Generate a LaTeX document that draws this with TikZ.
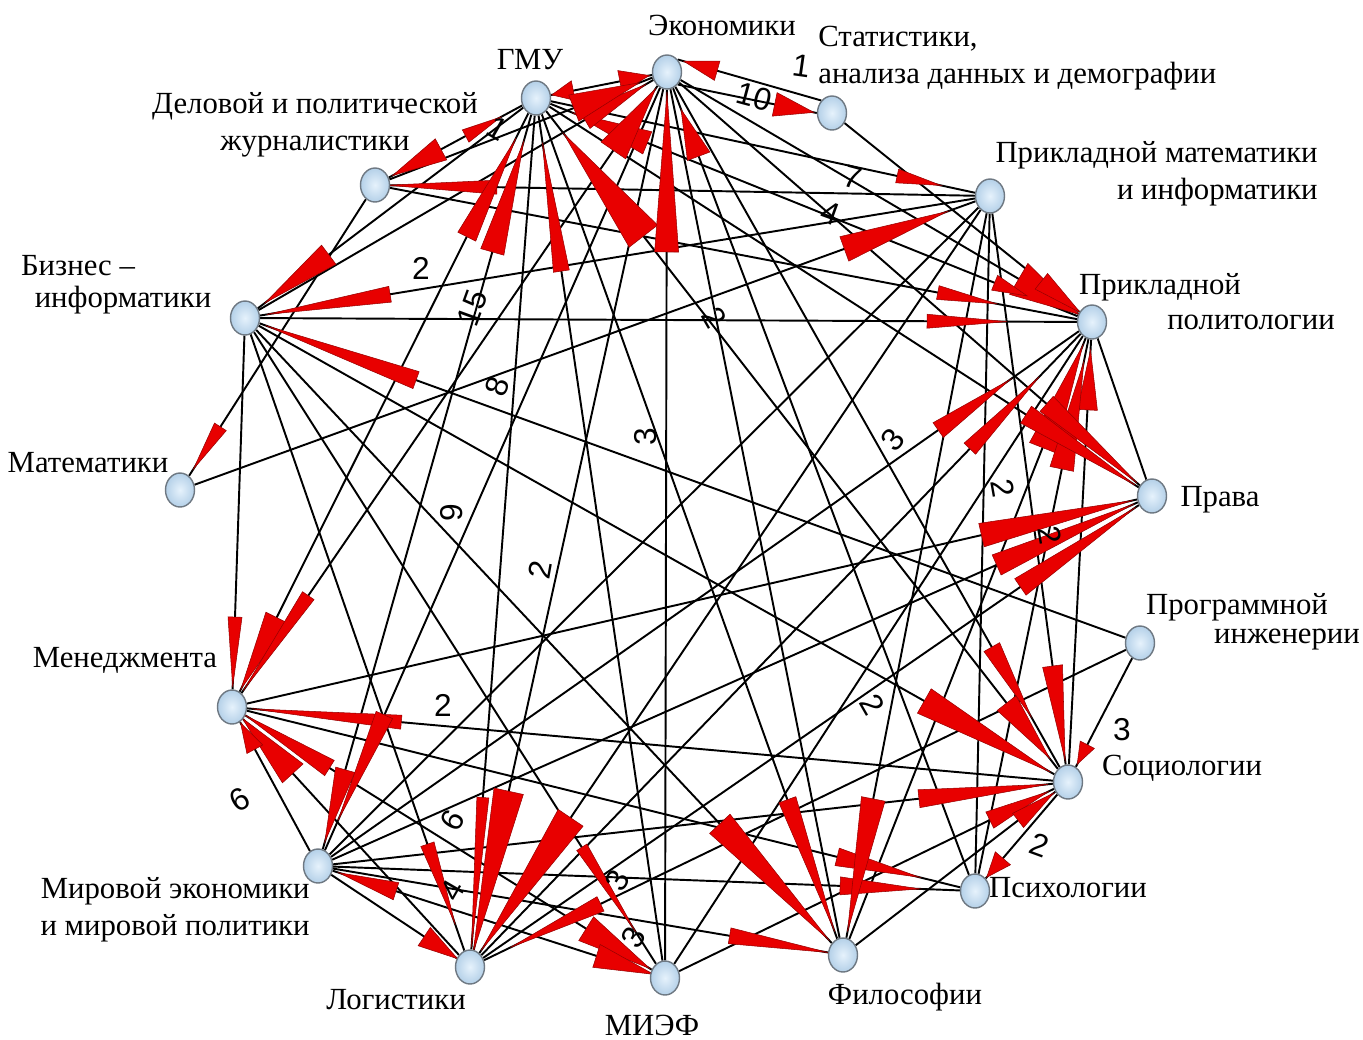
\documentclass[tikz,border=0pt]{standalone}
\usepackage{fontspec}
\setmainfont{Liberation Serif}
\newfontfamily\numfont{Liberation Sans}
\usetikzlibrary{calc,shapes.geometric}
\pgfdeclarelayer{edgelayer}
\pgfdeclarelayer{wedgelayer}
\pgfsetlayers{edgelayer,wedgelayer,main}
\definecolor{nodeblue}{RGB}{196,220,240}
\definecolor{nodeedge}{RGB}{110,120,130}
\definecolor{wedgered}{RGB}{232,0,0}
\definecolor{wedgedark}{RGB}{150,0,0}
\tikzset{
  vert/.style={ellipse, minimum width=0.58cm, minimum height=0.68cm, inner sep=0pt,
    draw=nodeedge, line width=0.8pt, inner color={rgb,255:red,230;green,242;blue,252},
    outer color={rgb,255:red,180;green,208;blue,232}},
  lab/.style={font=\fontsize{17.5}{21}\selectfont, inner sep=0pt},
  num/.style={font=\numfont\fontsize{18}{20}\selectfont, inner sep=0pt},
  edge/.style={draw=black, line width=1.1pt},
  redwedge/.style={fill=wedgered, draw=wedgedark, line width=0.3pt, line join=miter},
}
\newcommand\lnk[2]{\draw[edge] (#1) -- (#2);}
\newcommand\redarr[5]{%
  \pgfmathsetmacro\wga{#3*0.5691}%
  \pgfmathsetmacro\wgb{(#3+#4)*0.5691}%
  \pgfmathsetmacro\wgc{#5*0.5691}%
  \path ($(#2)!\wga pt!(#1)$) coordinate (wtip) ($(#2)!\wgb pt!(#1)$) coordinate (wbase);
  \fill[redwedge] (wtip) -- ($(wbase)!\wgc pt!90:(wtip)$) -- ($(wbase)!\wgc pt!-90:(wtip)$) -- cycle;}
\begin{document}
\begin{tikzpicture}[x=0.02cm,y=-0.02cm]
\useasboundingbox (0,0) rectangle (1363,1039);
% vertices
\node[vert] (E)  at (667,72) {};
\node[vert] (ST) at (832,113) {};
\node[vert] (G)  at (536,98) {};
\node[vert] (DJ) at (375,185) {};
\node[vert] (PM) at (990,196) {};
\node[vert] (BI) at (245,318) {};
\node[vert] (PP) at (1092,322) {};
\node[vert] (MA) at (180,490) {};
\node[vert] (PR) at (1152,496) {};
\node[vert] (PI) at (1140,643) {};
\node[vert] (ME) at (232,707) {};
\node[vert] (SO) at (1068,782) {};
\node[vert] (MW) at (318,866) {};
\node[vert] (PS) at (975,891) {};
\node[vert] (LO) at (470,967) {};
\node[vert] (MF) at (665,978) {};
\node[vert] (FI) at (843,955) {};
% names
\node[lab] (tE) at (722,25) {Экономики};
\node[lab, anchor=west, align=left] (tST) at (818,58) {Статистики,\\анализа данных и демографии};
\node[lab] (tG) at (530,60) {ГМУ};
\node[lab, align=center] (tDJ) at (315,125) {Деловой и политической\\журналистики};
\node[lab, anchor=east, align=right] (tPM) at (1318,174) {Прикладной математики\\и информатики};
\node[lab] (tBI1) at (78,266) {Бизнес –};
\node[lab] (tBI2) at (123,300) {информатики};
\node[lab] (tPP1) at (1160,287) {Прикладной};
\node[lab] (tPP2) at (1251,322) {политологии};
\node[lab] (tMA) at (88,463) {Математики};
\node[lab] (tPR) at (1220,500) {Права};
\node[lab] (tPI1) at (1237,607) {Программной};
\node[lab] (tPI2) at (1287,640) {инженерии};
\node[lab] (tME) at (125,660) {Менеджмента};
\node[lab] (tSO) at (1182,768) {Социологии};
\node[lab] (tPS) at (1068,888) {Психологии};
\node[lab, anchor=east, align=right] (tMW) at (310,910) {Мировой экономики\\и мировой политики};
\node[lab] (tLO) at (396,1000) {Логистики};
\node[lab] (tMF) at (652,1025) {МИЭФ};
\node[lab] (tFI) at (905,997) {Философии};
% connectors
\begin{pgfonlayer}{edgelayer}
\draw[edge] (ST.north west) -- (E.north east);
\draw[edge] (E.south east) -- (ST.west);
\lnk{E}{G}\lnk{DJ}{G}\lnk{G}{BI}\lnk{G}{PM}\lnk{G}{PP}\lnk{G}{PR}\lnk{G}{SO}
\lnk{G}{FI}\lnk{G}{MF}\lnk{G}{LO}\lnk{G}{MW}\lnk{G}{ME}
\lnk{E}{PP}\lnk{E}{PR}\lnk{E}{SO}\lnk{E}{PS}\lnk{E}{FI}\lnk{E}{MF}\lnk{E}{LO}
\lnk{E}{MW}\lnk{E}{ME}\lnk{E}{BI}\lnk{E}{DJ}
\lnk{ST}{PP}\lnk{DJ}{MA}\lnk{DJ}{PP}\lnk{DJ}{PM}\lnk{PM}{BI}\lnk{MA}{PM}
\lnk{PM}{SO}\lnk{PM}{PS}\lnk{PM}{FI}\lnk{PM}{MW}\lnk{PM}{LO}
\lnk{BI}{PP}\lnk{BI}{PI}\lnk{BI}{ME}\lnk{BI}{SO}\lnk{BI}{LO}\lnk{BI}{MF}\lnk{BI}{FI}
\lnk{MW}{PP}\lnk{MF}{PP}\lnk{LO}{PP}\lnk{SO}{PP}\lnk{FI}{PP}\lnk{PS}{PP}\lnk{PR}{PP}
\lnk{ME}{PR}\lnk{MW}{PR}\lnk{LO}{PR}\lnk{PI}{SO}\lnk{PI}{LO}
\lnk{SO}{ME}\lnk{SO}{MW}\lnk{SO}{MF}\lnk{SO}{FI}\lnk{SO}{PS}
\lnk{MW}{ME}\lnk{LO}{ME}\lnk{MF}{ME}\lnk{MW}{FI}\lnk{ME}{PS}\lnk{MW}{PS}
\lnk{MW}{MF}\lnk{MW}{LO}
\end{pgfonlayer}
\begin{pgfonlayer}{wedgelayer}
\redarr{ST.north west}{E.north east}{6}{35}{10}
\redarr{E.south east}{ST.west}{3}{40}{12}
\redarr{G}{E}{18}{30}{11}
\redarr{E}{G}{16}{22}{10}
\redarr{DJ}{G}{40}{40}{7}
\redarr{G}{DJ}{20}{55}{12}
\redarr{G}{BI}{25}{80}{12}
\redarr{PM}{BI}{22}{125}{8}
\redarr{PI}{BI}{22}{160}{9}
\redarr{BI}{ME}{20}{70}{7}
\redarr{DJ}{MA}{25}{50}{7}
\redarr{MA}{PM}{45}{110}{13}
\redarr{G}{PM}{50}{45}{7}
\redarr{PM}{DJ}{12}{110}{7}
\redarr{DJ}{PP}{97}{60}{7}
\redarr{BI}{PP}{85}{80}{7}
\redarr{E}{PP}{15}{70}{18}
\redarr{G}{PP}{70}{35}{8}
\redarr{ST}{PP}{15}{50}{10}
\redarr{MW}{PP}{100}{88}{9}
\redarr{LO}{PP}{76}{100}{8}
\redarr{FI}{PP}{25}{110}{14}
\redarr{SO}{PP}{28}{60}{10}
\redarr{PS}{PP}{40}{110}{12}
\redarr{G}{PR}{20}{130}{10}
\redarr{E}{PR}{20}{120}{10}
\redarr{ME}{PR}{20}{155}{12}
\redarr{MW}{PR}{20}{150}{11}
\redarr{LO}{PR}{20}{140}{10}
\redarr{BI}{SO}{20}{145}{14}
\redarr{E}{SO}{75}{80}{9}
\redarr{G}{SO}{30}{70}{12}
\redarr{PM}{SO}{22}{95}{10}
\redarr{PI}{SO}{20}{22}{8}
\redarr{MW}{SO}{20}{130}{9}
\redarr{MF}{SO}{22}{65}{9}
\redarr{FI}{SO}{18}{45}{9}
\redarr{SO}{PS}{18}{25}{10}
\redarr{SO}{ME}{20}{150}{7}
\redarr{ME}{PS}{57}{85}{9}
\redarr{MW}{PS}{55}{80}{9}
\redarr{BI}{FI}{20}{160}{14}
\redarr{G}{FI}{25}{140}{9}
\redarr{PM}{FI}{24}{135}{12}
\redarr{MW}{FI}{15}{100}{8}
\redarr{ME}{MF}{18}{75}{14}
\redarr{BI}{MF}{55}{100}{6}
\redarr{MW}{MF}{12}{60}{12}
\redarr{E}{LO}{15}{165}{15}
\redarr{PM}{LO}{20}{160}{15}
\redarr{G}{LO}{20}{150}{6}
\redarr{BI}{LO}{45}{85}{7}
\redarr{MW}{LO}{15}{40}{11}
\redarr{PI}{LO}{45}{100}{8}
\redarr{G}{ME}{20}{80}{12}
\redarr{E}{ME}{20}{115}{7}
\redarr{LO}{ME}{15}{75}{14}
\redarr{MF}{ME}{15}{100}{9}
\redarr{MW}{ME}{18}{30}{9}
\redarr{G}{MW}{25}{75}{10}
\redarr{E}{MW}{50}{115}{9}
\redarr{MF}{MW}{22}{60}{9}
\redarr{MW}{G}{45}{115}{12}
\redarr{ME}{G}{45}{110}{10}
\redarr{MF}{G}{45}{130}{8}
\redarr{SO}{G}{45}{130}{18}
\redarr{PP}{G}{40}{80}{12}
\redarr{MF}{E}{20}{160}{12}
\redarr{PS}{E}{40}{50}{12}
\redarr{ME}{E}{20}{75}{15}
\redarr{BI}{E}{25}{70}{10}
\redarr{DJ}{E}{30}{70}{14}
\end{pgfonlayer}
% edge weights
\node[num, rotate=-8] (w1) at (802,66) {1};
\node[num, rotate=-15] (w2) at (754,97) {10};
\node[num, rotate=-30] (w3) at (498,128) {1};
\node[num, rotate=-15] (w4) at (853,177) {7};
\node[num, rotate=-20] (w5) at (830,213) {4};
\node[num] (w6) at (421,268) {2};
\node[num, rotate=70] (w7) at (472,308) {15};
\node[num, rotate=70] (w8) at (497,387) {8};
\node[num, rotate=90] (w9) at (646,437) {3};
\node[num, rotate=-60] (w10) at (714,318) {2};
\node[num, rotate=50] (w11) at (893,440) {3};
\node[num, rotate=-80] (w12) at (1003,488) {2};
\node[num, rotate=-80] (w13) at (1050,535) {2};
\node[num, rotate=90] (w14) at (452,513) {9};
\node[num, rotate=80] (w15) at (540,570) {2};
\node[num] (w16) at (443,705) {2};
\node[num, rotate=30] (w17) at (240,800) {6};
\node[num, rotate=60] (w18) at (452,820) {6};
\node[num, rotate=60] (w19) at (452,890) {4};
\node[num, rotate=60] (w20) at (617,880) {3};
\node[num, rotate=60] (w21) at (633,937) {3};
\node[num, rotate=-60] (w22) at (872,705) {2};
\node[num] (w23) at (1122,730) {3};
\node[num, rotate=-20] (w24) at (1040,845) {2};
\end{tikzpicture}
\end{document}
